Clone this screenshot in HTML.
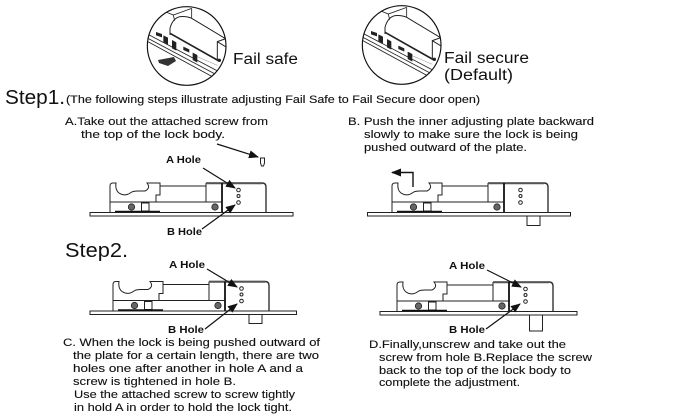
<!DOCTYPE html>
<html>
<head>
<meta charset="utf-8">
<style>
html,body{margin:0;padding:0;background:#fff}
svg{display:block}
text{font-family:"Liberation Sans",sans-serif;fill:#111}
.t{font-size:11px;stroke:#111;stroke-width:.12}
.b{font-size:10.5px;font-weight:bold}
.l{fill:none;stroke:#222;stroke-width:1}
</style>
</head>
<body>
<svg width="686" height="420" viewBox="0 0 686 420" xmlns="http://www.w3.org/2000/svg">
<defs>
<marker id="ah" markerWidth="10" markerHeight="8" refX="9" refY="4" orient="auto" markerUnits="userSpaceOnUse"><path d="M0,0L10,4L0,8z" fill="#111"/></marker>
<clipPath id="cc"><circle cx="170" cy="138" r="118"/></clipPath>
<g id="det">
  <g clip-path="url(#cc)" fill="none" stroke="#222">
    <path d="M105,35L130,45L185,25M130,45L134,62M185,25V55" stroke-width="2.500"/>
    <path d="M120,105V85Q128,55 150,50Q170,48 185,55L290,118" stroke-width="3"/>
    <path d="M262,182V125L290,115M262,125L290,142" stroke-width="3"/>
    <path d="M120,100L265,182" stroke-width="5"/>
    <path d="M52,102L280,222" stroke-width="2.500"/>
    <path d="M52,114L270,230" stroke-width="2.500"/>
    <path d="M52,124L262,238" stroke-width="2.500"/>
    <path d="M190,165L262,196" stroke-width="1.500" stroke="#888"/>
    <g fill="#222" stroke="none">
      <path d="M78,96L96,102V112L78,106z"/>
      <path d="M100,106L114,113V134L100,126z"/>
      <path d="M126,120L139,127V152L126,145z"/>
      <path d="M160,140L178,148V158L160,150z"/>
      <path d="M188,158L202,165V188L188,180z"/>
    </g>
    <circle cx="268" cy="181" r="5" fill="#222" stroke="none"/>
  </g>
  <circle cx="170" cy="138" r="118" fill="none" stroke="#111" stroke-width="3.500"/>
</g>
<g id="lock">
  <path class="l" stroke-width="1.2" d="M110,212V186Q110,183 113,183H116Q115,190 119,193Q125,197 131,192.500Q133,191 138,191H145Q151,188 147,183H160V195H156V202"/>
  <path class="l" d="M160,186H206"/>
  <path class="l" d="M110,202H222M206,202V183"/>
  <path d="M206,183H262Q266,183 266,187V212" fill="none" stroke="#333" stroke-width="1.400"/>
  <path d="M206,183.300H262" fill="none" stroke="#555" stroke-width="1.800"/>
  <path d="M222,183V212" stroke="#111" stroke-width="1.800"/>
  <circle cx="131.500" cy="207" r="3.200" fill="#666" stroke="#222" stroke-width=".8"/>
  <circle cx="215" cy="207" r="3.200" fill="#666" stroke="#222" stroke-width=".8"/>
  <rect x="141.500" y="203" width="7.500" height="8" fill="#fff" stroke="#222"/>
  <path d="M115,211.500H160" stroke="#111" stroke-width="1.500"/>
  <circle cx="238.500" cy="190" r="1.800" fill="#fff" stroke="#222"/>
  <circle cx="238.500" cy="196" r="1.500" fill="#fff" stroke="#222"/>
  <circle cx="238.500" cy="202.500" r="1.800" fill="#fff" stroke="#222"/>
</g>
</defs>

<use href="#det" transform="translate(130,0) scale(.3333)"/>
<path d="M158,60L174,57L176,61L168,66L159,63z" fill="#333"/>
<use href="#det" transform="translate(345,-1) scale(.3333)"/>
<text x="233" y="64" font-size="15.500" textLength="65" lengthAdjust="spacingAndGlyphs">Fail safe</text>
<text x="444" y="63" font-size="15.500" textLength="85" lengthAdjust="spacingAndGlyphs">Fail secure</text>
<text x="444" y="80" font-size="15.500" textLength="69" lengthAdjust="spacingAndGlyphs">(Default)</text>

<text x="5" y="104" font-size="20" textLength="60" lengthAdjust="spacingAndGlyphs">Step1.</text>
<text x="66" y="103" class="t" textLength="414" lengthAdjust="spacingAndGlyphs">(The following steps illustrate adjusting Fail Safe to Fail Secure door open)</text>

<text x="65" y="125" class="t" textLength="203" lengthAdjust="spacingAndGlyphs">A.Take out the attached screw from</text>
<text x="81" y="138" class="t" textLength="144" lengthAdjust="spacingAndGlyphs">the top of the lock body.</text>
<text x="348" y="125" class="t" textLength="246" lengthAdjust="spacingAndGlyphs">B. Push the inner adjusting plate backward</text>
<text x="364" y="138" class="t" textLength="214" lengthAdjust="spacingAndGlyphs">slowly to make sure the lock is being</text>
<text x="364" y="151" class="t" textLength="163" lengthAdjust="spacingAndGlyphs">pushed outward of the plate.</text>

<!-- screw -->
<path d="M217,144L258,157" stroke="#111" stroke-width="1.200" fill="none" marker-end="url(#ah)"/>
<path d="M260.500,158H264.500V163L263.500,166H261.500L260.500,163z" fill="#fff" stroke="#222"/>

<!-- Lock 1 -->
<rect x="90" y="212.500" width="203" height="3.500" fill="#fff" stroke="#222"/>
<use href="#lock"/>
<text x="166" y="163" class="b" textLength="35" lengthAdjust="spacingAndGlyphs">A Hole</text>
<text x="167" y="235" class="b" textLength="35" lengthAdjust="spacingAndGlyphs">B Hole</text>
<path d="M203,168L235,188" stroke="#111" stroke-width="1.200" fill="none" marker-end="url(#ah)"/>
<path d="M202,229L235,205" stroke="#111" stroke-width="1.200" fill="none" marker-end="url(#ah)"/>

<!-- Lock 2 -->
<rect x="367.500" y="212.500" width="203" height="3.500" fill="#fff" stroke="#222"/>
<rect x="527" y="216" width="13" height="9.500" fill="#fff" stroke="#222"/>
<use href="#lock" transform="translate(282,0)"/>
<path d="M413,187V172.500H392" fill="none" stroke="#111" stroke-width="1.400" marker-end="url(#ah)"/>

<text x="65" y="257" font-size="20" textLength="63" lengthAdjust="spacingAndGlyphs">Step2.</text>

<!-- Lock 3 -->
<rect x="90" y="311" width="206.500" height="3.500" fill="#fff" stroke="#222"/>
<rect x="249" y="314.500" width="13" height="9" fill="#fff" stroke="#222"/>
<use href="#lock" transform="translate(3,98.500)"/>
<text x="169" y="268" class="b" textLength="36" lengthAdjust="spacingAndGlyphs">A Hole</text>
<text x="168" y="333" class="b" textLength="36" lengthAdjust="spacingAndGlyphs">B Hole</text>
<path d="M207,269L237,287" stroke="#111" stroke-width="1.200" fill="none" marker-end="url(#ah)"/>
<path d="M205,329L237,304" stroke="#111" stroke-width="1.200" fill="none" marker-end="url(#ah)"/>

<!-- Lock 4 -->
<rect x="380" y="311.500" width="197" height="3.500" fill="#fff" stroke="#222"/>
<rect x="529.500" y="315" width="13" height="16" fill="#fff" stroke="#222"/>
<use href="#lock" transform="translate(287,99)"/>
<text x="449" y="269" class="b" textLength="36" lengthAdjust="spacingAndGlyphs">A Hole</text>
<text x="449" y="333" class="b" textLength="36" lengthAdjust="spacingAndGlyphs">B Hole</text>
<path d="M487,270L521,287" stroke="#111" stroke-width="1.200" fill="none" marker-end="url(#ah)"/>
<path d="M486,329L520,304" stroke="#111" stroke-width="1.200" fill="none" marker-end="url(#ah)"/>

<text x="63" y="346" class="t" textLength="257" lengthAdjust="spacingAndGlyphs">C. When the lock is being pushed outward of</text>
<text x="73" y="359" class="t" textLength="246" lengthAdjust="spacingAndGlyphs">the plate for a certain length, there are two</text>
<text x="73" y="372" class="t" textLength="230" lengthAdjust="spacingAndGlyphs">holes one after  another in hole A and a</text>
<text x="73" y="385" class="t" textLength="163" lengthAdjust="spacingAndGlyphs">screw is tightened in hole B.</text>
<text x="74" y="398" class="t" textLength="221" lengthAdjust="spacingAndGlyphs">Use the attached screw to screw tightly</text>
<text x="74" y="411" class="t" textLength="218" lengthAdjust="spacingAndGlyphs">in hold A in order to hold the lock tight.</text>

<text x="369" y="348" class="t" textLength="197" lengthAdjust="spacingAndGlyphs">D.Finally,unscrew and take out the</text>
<text x="379" y="361" class="t" textLength="213" lengthAdjust="spacingAndGlyphs">screw from hole B.Replace the screw</text>
<text x="379" y="374" class="t" textLength="192" lengthAdjust="spacingAndGlyphs">back to the top of the lock body to</text>
<text x="379" y="386" class="t" textLength="141" lengthAdjust="spacingAndGlyphs">complete the adjustment.</text>
</svg>
</body>
</html>
